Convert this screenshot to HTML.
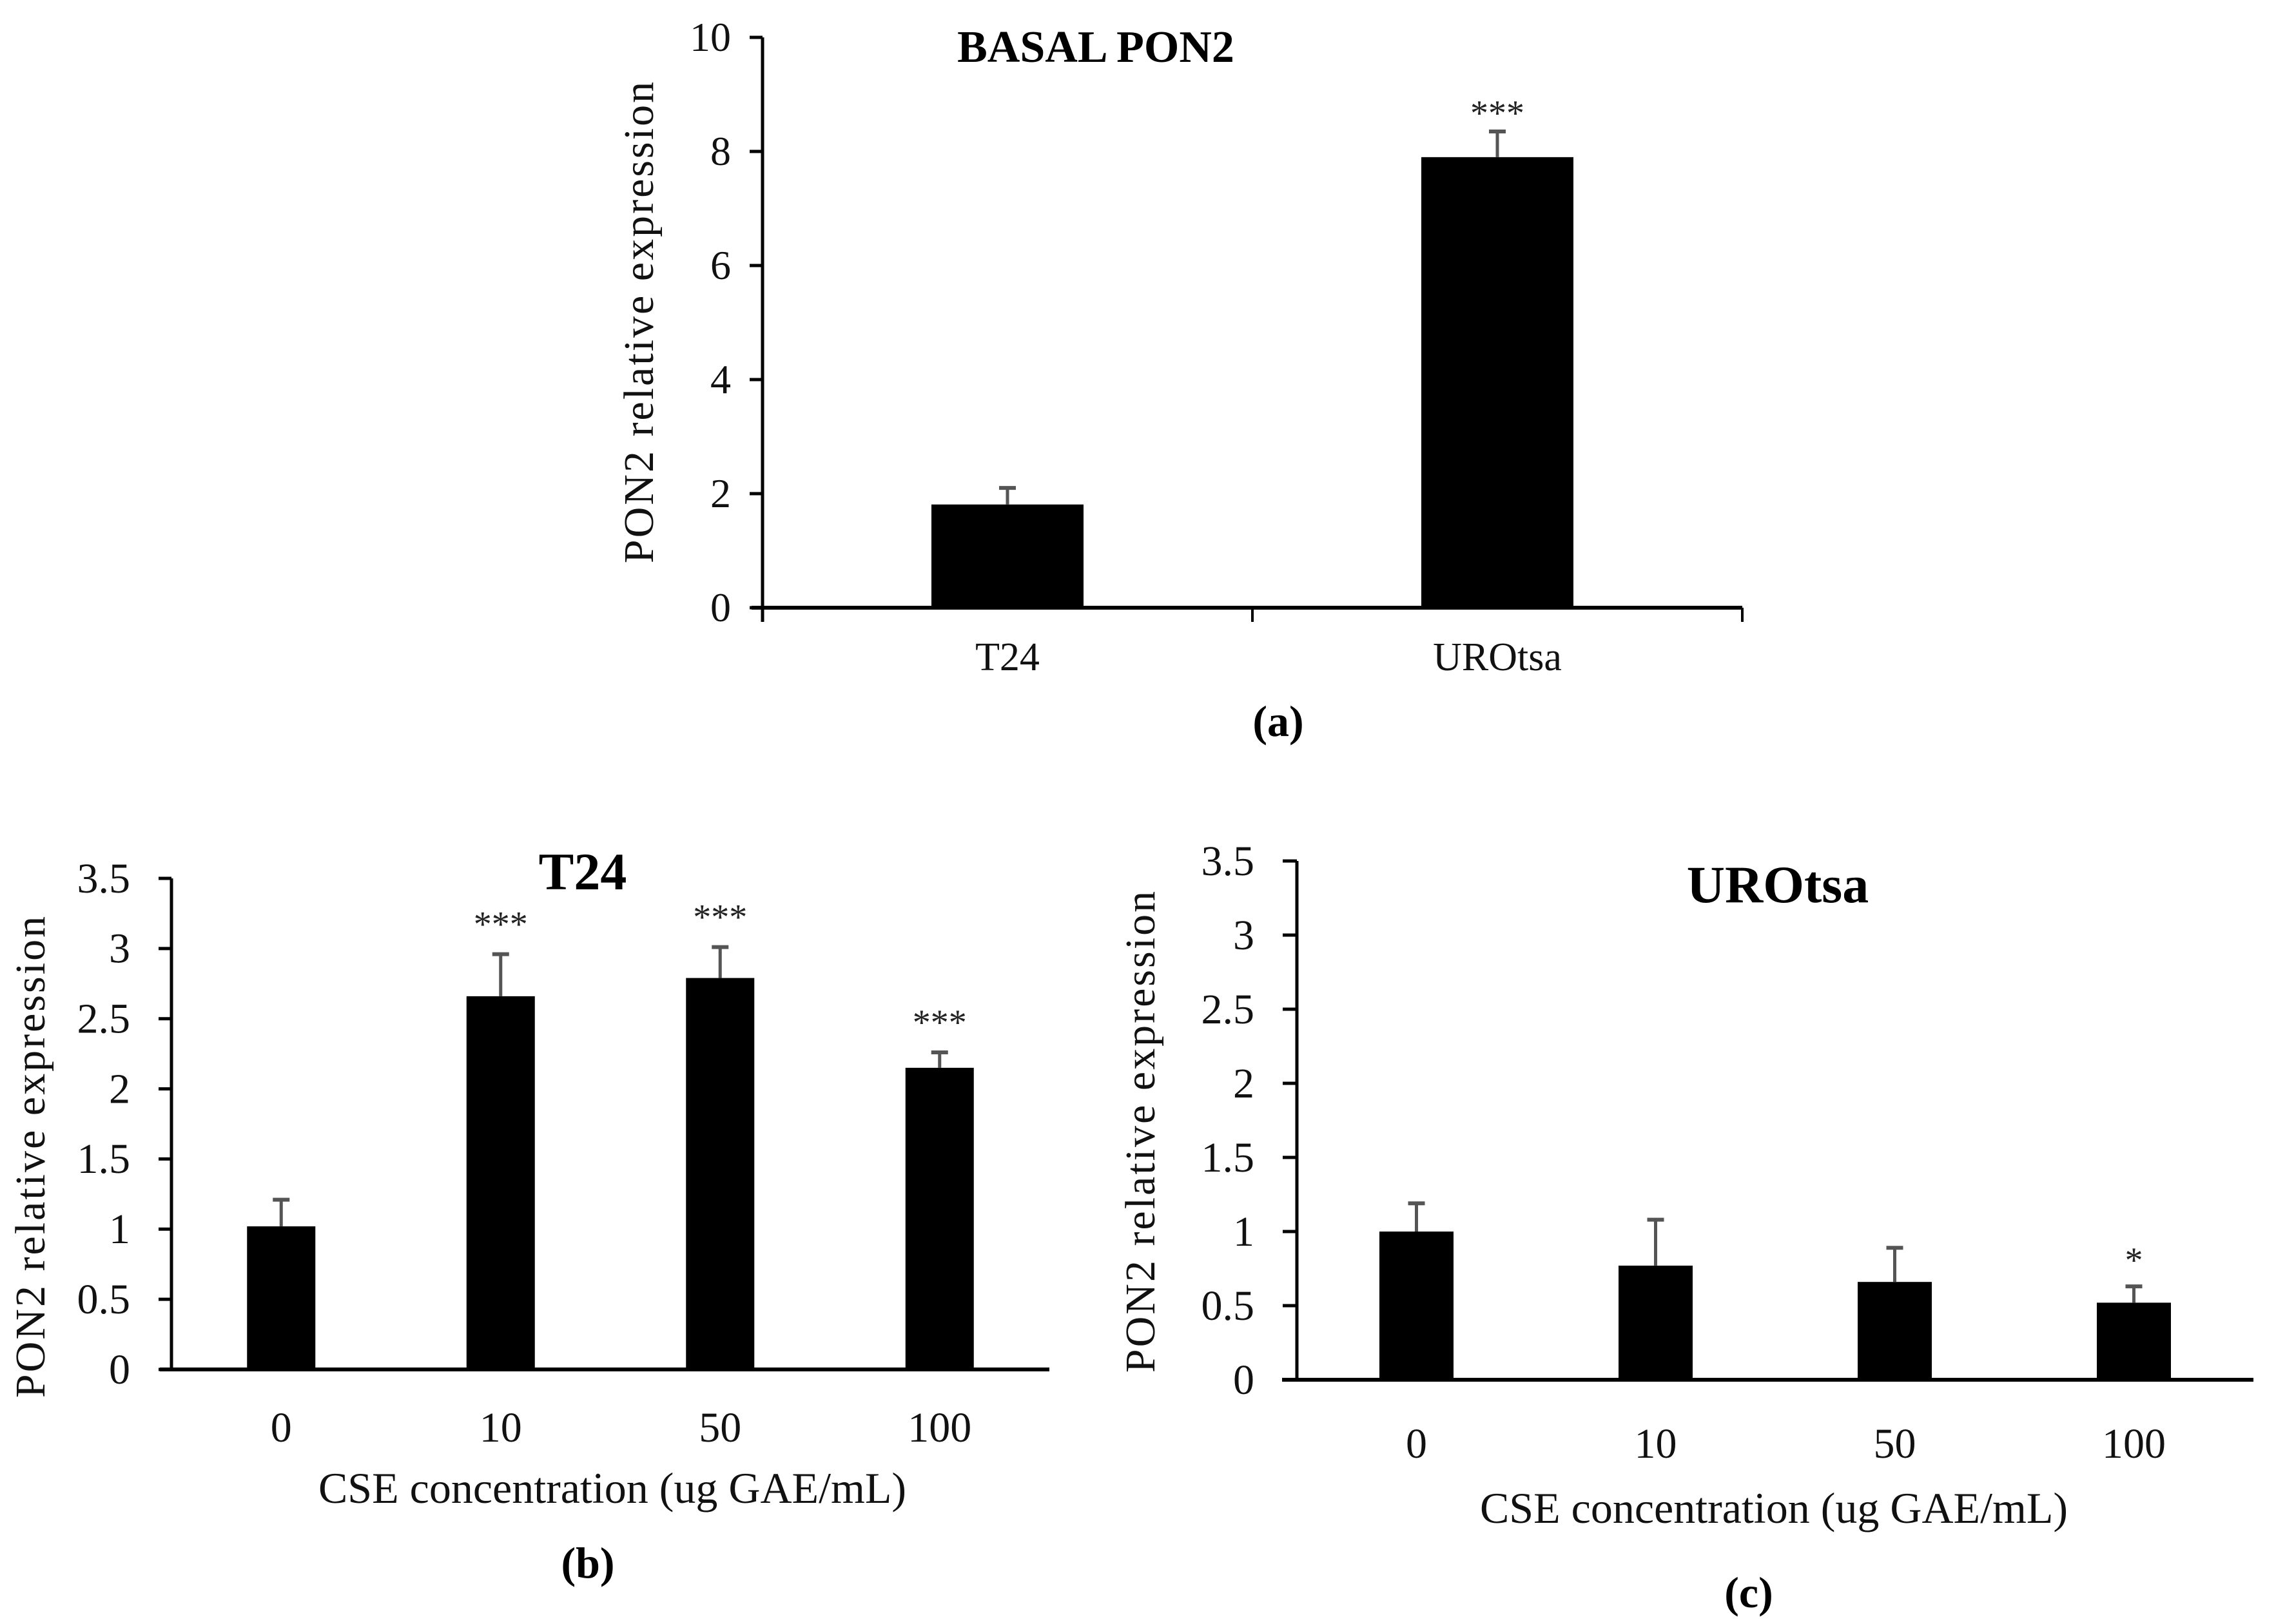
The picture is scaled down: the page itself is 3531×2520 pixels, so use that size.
<!DOCTYPE html>
<html><head><meta charset="utf-8"><style>
html,body{margin:0;padding:0;background:#fff;}
svg{display:block;font-family:"Liberation Serif",serif;}
</style></head><body>
<svg id="fig" width="3531" height="2520" viewBox="0 0 3531 2520" xmlns="http://www.w3.org/2000/svg"></svg>
<script>
// Panel (a)
const aCategories = ["T24", "UROtsa"];
const aValues = [1.81, 7.9];
const aErrors = [0.29, 0.45];
const aStars = ["", "***"];
const aTicks = [0, 2, 4, 6, 8, 10];
// Panel (b)
const bCategories = ["0", "10", "50", "100"];
const bValues = [1.02, 2.66, 2.79, 2.15];
const bErrors = [0.19, 0.30, 0.22, 0.11];
const bStars = ["", "***", "***", "***"];
// Panel (c)
const cCategories = ["0", "10", "50", "100"];
const cValues = [1.00, 0.77, 0.66, 0.52];
const cErrors = [0.19, 0.31, 0.23, 0.11];
const cStars = ["", "", "", "*"];
const bcTicks = [0, 0.5, 1, 1.5, 2, 2.5, 3, 3.5];

const svg = document.getElementById('fig');
const NS = 'http://www.w3.org/2000/svg';
function mk(tag, attrs, parent) {
  const el = document.createElementNS(NS, tag);
  for (const k in attrs) el.setAttribute(k, attrs[k]);
  (parent || svg).appendChild(el);
  return el;
}
function txt(s, attrs, parent) { const t = mk('text', attrs, parent); t.textContent = s; return t; }

function panel(cfg) {
  const g = mk('g', {});
  
  
  const y = v => cfg.y0 - (v / cfg.max) * (cfg.y0 - cfg.yTop);
  const n = cfg.cats.length;
  const step = (cfg.xEnd - cfg.ax) / n;
  const cx = i => cfg.ax + step * (i + 0.5);
  cfg.ticks.forEach(t => {
    const l = mk('line', {x1: cfg.ax - cfg.tickLen, x2: cfg.ax, y1: y(t), y2: y(t), stroke: '#000', 'stroke-width': 5}, g);
    
    
    const tl = txt(String(t), {x: cfg.labelRight, y: y(t) + cfg.tickFont * 0.33, 'text-anchor': 'end', 'font-size': cfg.tickFont, fill: '#111'}, g);
    
    
  });
  cfg.cats.forEach((c, i) => {
    const v = cfg.vals[i];
    const top = y(v);
    const r = mk('rect', {x: cx(i) - cfg.barW / 2, y: top, width: cfg.barW, height: cfg.y0 - top, fill: '#000'}, g);
    
    
    const et = y(v + cfg.errs[i]);
    const e = mk('line', {x1: cx(i), x2: cx(i), y1: top, y2: et, stroke: '#555', 'stroke-width': 5}, g);
    
    
    const cap = mk('line', {x1: cx(i) - 13, x2: cx(i) + 13, y1: et, y2: et, stroke: '#555', 'stroke-width': 6}, g);
    
    
    if (cfg.stars[i]) {
      const s = txt(cfg.stars[i], {x: cx(i), y: et - cfg.starGap, 'text-anchor': 'middle', 'font-size': 56, fill: '#222'}, g);
      
      
    }
    const cl = txt(c, {x: cx(i), y: cfg.catY, 'text-anchor': 'middle', 'font-size': cfg.catFont, fill: '#111'}, g);
    
    
  });
  const ya = mk('line', {x1: cfg.ax, x2: cfg.ax, y1: cfg.yTop, y2: cfg.y0 + (cfg.xTicks ? 22 : 2), stroke: '#000', 'stroke-width': 5}, g);
  
  
  const xa = mk('line', {x1: cfg.xStart, x2: cfg.xEnd, y1: cfg.y0, y2: cfg.y0, stroke: '#000', 'stroke-width': 6}, g);
  
  
  if (cfg.xTicks) {
    for (let i = 1; i <= n; i++) {
      const t = mk('line', {x1: cfg.ax + step * i, x2: cfg.ax + step * i, y1: cfg.y0, y2: cfg.y0 + 22, stroke: '#000', 'stroke-width': 4}, g);
      
      
    }
  }
  const yt = txt('PON2 relative expression', {x: 0, y: 0, 'text-anchor': 'middle', 'font-size': cfg.yFont, fill: '#111', 'letter-spacing': 3, transform: `translate(${cfg.yTitleX},${cfg.yTitleY}) rotate(-90)`, 'dominant-baseline': 'middle'}, g);
  
  
  const ct = txt(cfg.title, {x: cfg.titleX, y: cfg.titleY, 'text-anchor': 'middle', 'font-size': cfg.titleFont, 'font-weight': 'bold', fill: '#000'}, g);
  
  
  if (cfg.xTitle) {
    const xt = txt(cfg.xTitle, {x: cfg.xTitleX, y: cfg.xTitleY, 'text-anchor': 'middle', 'font-size': 68, fill: '#111'}, g);
    
    
  }
  const pl = txt(cfg.letter, {x: cfg.letterX, y: cfg.letterY, 'text-anchor': 'middle', 'font-size': 68, 'font-weight': 'bold', fill: '#000'}, g);
  
  
}

panel({name: 'panel-a-basal-pon2', cats: aCategories, vals: aValues, errs: aErrors, stars: aStars, ticks: aTicks, max: 10,
  ax: 1183, xStart: 1166, xEnd: 2703, y0: 943, yTop: 58, barW: 236, tickLen: 20, labelRight: 1134, tickFont: 64,
  catY: 1040, catFont: 62, starGap: 10, xTicks: true, yFont: 66, yTitleX: 998, yTitleY: 499,
  title: 'BASAL PON2', titleX: 1700, titleY: 96, titleFont: 70, letter: '(a)', letterX: 1983, letterY: 1142});

panel({name: 'panel-b-t24', cats: bCategories, vals: bValues, errs: bErrors, stars: bStars, ticks: bcTicks, max: 3.5,
  ax: 266, xStart: 248, xEnd: 1628, y0: 2125, yTop: 1363, barW: 106, tickLen: 20, labelRight: 202, tickFont: 66,
  catY: 2237, catFont: 66, starGap: 28, xTicks: false, yFont: 66, yTitleX: 54, yTitleY: 1794,
  title: 'T24', titleX: 904, titleY: 1380, titleFont: 82, xTitle: 'CSE concentration (ug GAE/mL)', xTitleX: 950, xTitleY: 2332,
  letter: '(b)', letterX: 912, letterY: 2448});

panel({name: 'panel-c-urotsa', cats: cCategories, vals: cValues, errs: cErrors, stars: cStars, ticks: bcTicks, max: 3.5,
  ax: 2012, xStart: 1989, xEnd: 3496, y0: 2141, yTop: 1336, barW: 115, tickLen: 22, labelRight: 1946, tickFont: 66,
  catY: 2262, catFont: 66, starGap: 22, xTicks: false, yFont: 66, yTitleX: 1776, yTitleY: 1755,
  title: 'UROtsa', titleX: 2758, titleY: 1400, titleFont: 82, xTitle: 'CSE concentration (ug GAE/mL)', xTitleX: 2752, xTitleY: 2363,
  letter: '(c)', letterX: 2713, letterY: 2494});
</script>
</body></html>
